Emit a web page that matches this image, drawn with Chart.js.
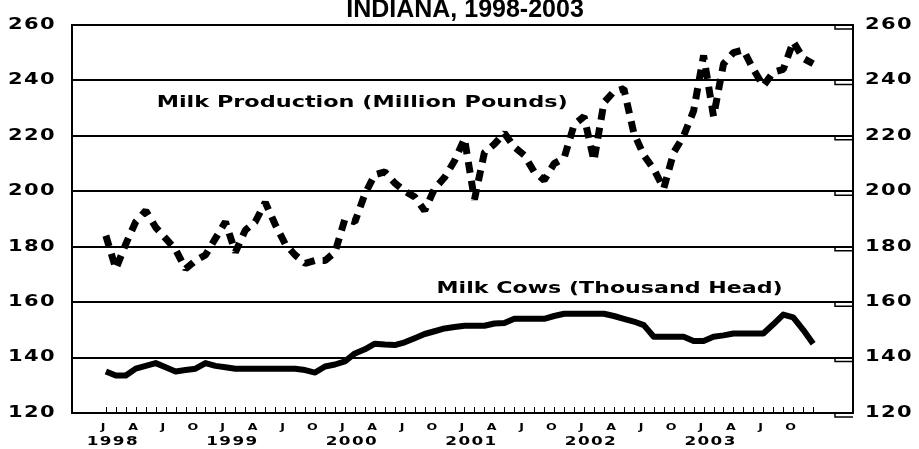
<!DOCTYPE html>
<html>
<head>
<meta charset="utf-8">
<script src="https://cdn.jsdelivr.net/npm/chart.js@4.4.0/dist/chart.umd.min.js"></script>
<style>
html,body{margin:0;padding:0;background:#fff;}
canvas{display:block;}
</style>
</head>
<body>
<canvas id="c" width="919" height="449"></canvas>
<script>
// ---------- data ----------
const years = ['1998', '1999', '2000', '2001', '2002', '2003'];
const quarterLetters = ['J', 'A', 'J', 'O'];
const yTickValues = [120, 140, 160, 180, 200, 220, 240, 260];
const chartTitle = 'INDIANA, 1998-2003';
const productionLabel = 'Milk Production (Million Pounds)';
const cowsLabel = 'Milk Cows (Thousand Head)';

// Milk production, million pounds, Jan 1998 - Dec 2003
const milkProduction = [
  184, 172, 181, 189, 193, 187, 183, 179, 172, 175, 177, 183,
  189, 178, 186, 189, 196, 188, 181, 177, 174, 175, 175, 178,
  190, 189, 199, 206, 207, 203, 200, 198, 193, 201, 205, 211,
  219, 197, 214, 217, 221, 216, 213, 207, 204, 210, 212, 224,
  227, 211, 232, 236, 237, 221, 213, 208, 201, 214, 220, 229,
  249, 227, 246, 250, 251, 244, 238, 243, 244, 254, 248, 246
];
// Milk cows, thousand head, Jan 1998 - Dec 2003
const milkCows = [
  135, 133.5, 133.5, 136, 137, 138, 136.5, 135, 135.5, 136, 138, 137,
  136.5, 136, 136, 136, 136, 136, 136, 136, 135.5, 134.6, 136.8, 137.5,
  138.6, 141.5, 143, 145, 144.7, 144.5, 145.5, 147, 148.5, 149.5, 150.5, 151,
  151.5, 151.5, 151.5, 152.3, 152.5, 154, 154, 154, 154, 155, 155.8, 155.8,
  155.8, 155.8, 155.8, 155, 154, 153, 151.7, 147.5, 147.5, 147.5, 147.5, 146,
  146, 147.5, 148, 148.7, 148.7, 148.7, 148.7, 152, 155.5, 154.5, 150, 145
];

const monthIndex = milkProduction.map((_, i) => i);
const toPoints = arr => arr.map((v, i) => ({x: monthIndex[i], y: v}));

// ---------- styling ----------
const TICK_FONT = 'DejaVu Sans';
const X_MIN = -3.4, X_MAX = 75;
const STRETCH = 1.4;   // horizontally extended lettering, as in the original

const decorPlugin = {
  id: 'decor',
  beforeInit(chart) {
    const ctx = chart.ctx;
    const orig = ctx.fillText;
    ctx.__sx = 1;
    ctx.fillText = function (text, x, y, maxWidth) {
      const s = this.__sx || 1;
      if (s === 1) return orig.call(this, text, x, y);
      this.save();
      this.translate(x, y);
      this.scale(s, 1);
      orig.call(this, text, 0, 0);
      this.restore();
    };
  },
  beforeDraw(chart) { chart.ctx.__sx = STRETCH; chart.ctx.letterSpacing = '1px'; },
  afterDraw(chart) {
    const ctx = chart.ctx;
    const xs = chart.scales.x, ys = chart.scales.y;
    const area = chart.chartArea;
    ctx.save();
    ctx.letterSpacing = '0px';
    ctx.__sx = 1;
    ctx.strokeStyle = '#000';
    ctx.fillStyle = '#000';
    // inward month tick marks on the bottom axis
    ctx.lineWidth = 1;
    ctx.beginPath();
    monthIndex.forEach(i => {
      const px = Math.round(xs.getPixelForValue(i)) + 0.5;
      ctx.moveTo(px, area.bottom - 6);
      ctx.lineTo(px, area.bottom);
    });
    ctx.stroke();
    // small right-axis tick boxes
    ctx.lineWidth = 1.5;
    ctx.beginPath();
    yTickValues.forEach(v => {
      const py = ys.getPixelForValue(v);
      ctx.moveTo(area.right - 18, py);
      ctx.lineTo(area.right - 18, py + 4);
      ctx.lineTo(area.right, py + 4);
    });
    ctx.stroke();

    // extended bold labels inside the plot
    const stretched = (text, month, value, width, size) => {
      ctx.font = 'bold ' + size + 'px "' + TICK_FONT + '"';
      ctx.__sx = 1;
      const w0 = ctx.measureText(text).width;
      ctx.textAlign = 'left';
      ctx.textBaseline = 'middle';
      ctx.__sx = width / w0;
      ctx.fillText(text, xs.getPixelForValue(month), ys.getPixelForValue(value));
      ctx.__sx = 1;
    };
    stretched(productionLabel, 5.1, 231.9, 411, 15);
    stretched(cowsLabel, 33.2, 164.6, 346, 15);

    // title
    ctx.__sx = 1;
    ctx.font = 'bold 25px "Liberation Sans"';
    ctx.textAlign = 'center';
    ctx.textBaseline = 'alphabetic';
    ctx.fillText(chartTitle, 465, 17);
    ctx.restore();
    ctx.__sx = 1;
  }
};

Chart.defaults.color = '#000';
Chart.defaults.font.family = TICK_FONT;

new Chart(document.getElementById('c'), {
  type: 'line',
  data: {
    datasets: [
      {
        label: productionLabel,
        data: toPoints(milkProduction),
        borderColor: '#000',
        borderWidth: 7,
        borderDash: [11, 8],
        borderCapStyle: 'butt',
        borderJoinStyle: 'bevel',
        pointRadius: 0,
        tension: 0,
        xAxisID: 'x', yAxisID: 'y'
      },
      {
        label: cowsLabel,
        data: toPoints(milkCows),
        borderColor: '#000',
        borderWidth: 6,
        borderCapStyle: 'butt',
        borderJoinStyle: 'round',
        pointRadius: 0,
        tension: 0,
        xAxisID: 'x', yAxisID: 'y'
      }
    ]
  },
  options: {
    responsive: false,
    animation: false,
    devicePixelRatio: 1,
    layout: {padding: {top: 22, left: 0, right: 0, bottom: 0}},
    plugins: {legend: {display: false}, title: {display: false}, tooltip: {enabled: false}},
    scales: {
      x: {
        type: 'linear', position: 'bottom', min: X_MIN, max: X_MAX, weight: 0,
        grid: {display: false, drawTicks: false},
        border: {display: true, color: '#000', width: 2},
        afterBuildTicks: s => { s.ticks = monthIndex.filter(i => i % 3 === 0).map(i => ({value: i})); },
        afterFit: s => { s.height = 20; },
        ticks: {
          autoSkip: false, maxRotation: 0, minRotation: 0, padding: 9, labelOffset: -2, color: '#000',
          font: {family: TICK_FONT, weight: 'bold', size: 9},
          callback: v => quarterLetters[(v / 3) % 4]
        }
      },
      x2: {
        type: 'linear', position: 'bottom', min: X_MIN, max: X_MAX, weight: 1,
        grid: {display: false, drawTicks: false},
        border: {display: false},
        afterBuildTicks: s => { s.ticks = years.map((_, k) => ({value: 12 * k})); },
        afterFit: s => { s.height = 16; },
        ticks: {
          autoSkip: false, maxRotation: 0, minRotation: 0, padding: 2, labelOffset: 7, color: '#000',
          font: {family: TICK_FONT, weight: 'bold', size: 12},
          callback: (v, i) => years[i]
        }
      },
      y: {
        type: 'linear', position: 'left', min: 120, max: 260,
        grid: {display: true, color: '#000', lineWidth: 2, drawTicks: false},
        border: {display: true, color: '#000', width: 2},
        afterBuildTicks: s => { s.ticks = yTickValues.map(v => ({value: v})); },
        afterFit: s => { s.width = 72; },
        ticks: {padding: 16, color: '#000', font: {family: TICK_FONT, weight: 'bold', size: 15}}
      },
      y2: {
        type: 'linear', position: 'right', min: 120, max: 260,
        grid: {display: false, drawTicks: false},
        border: {display: true, color: '#000', width: 2},
        afterBuildTicks: s => { s.ticks = yTickValues.map(v => ({value: v})); },
        afterFit: s => { s.width = 66; },
        ticks: {padding: 12, color: '#000', font: {family: TICK_FONT, weight: 'bold', size: 15}}
      }
    }
  },
  plugins: [decorPlugin]
});
</script>
</body>
</html>
